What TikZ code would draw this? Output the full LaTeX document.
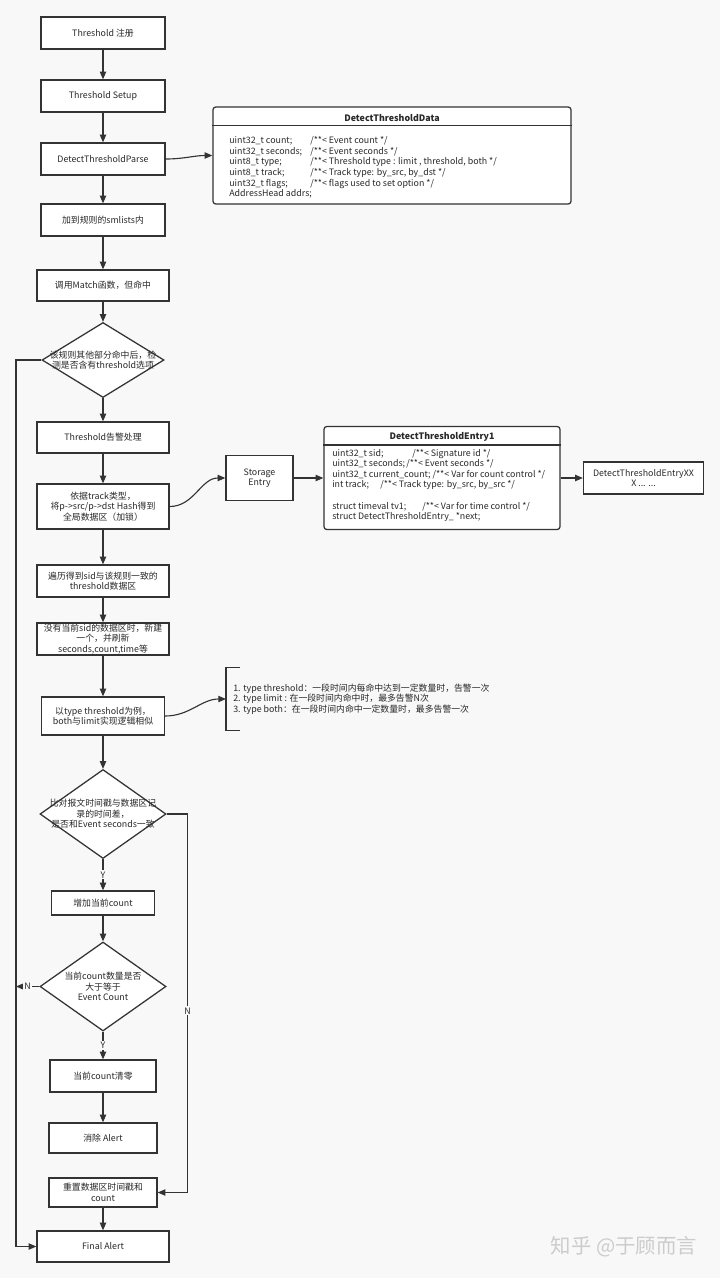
\documentclass[tikz,border=0pt]{standalone}
\usepackage{fontspec}
\setmainfont{Noto Sans CJK SC}
\usepackage{tikz}
\usetikzlibrary{arrows.meta,shapes.geometric}
\newlength\px
\setlength\px{0.025cm}
\definecolor{bg}{RGB}{248,248,248}
\definecolor{lc}{RGB}{51,51,51}
\definecolor{tc}{RGB}{40,40,40}
\newcommand{\tcol}[2]{\makebox[#1\px][l]{#2}}

\begin{document}
\begin{tikzpicture}[x=0.025cm,y=-0.025cm,
  font=\fontsize{6.3}{7.5}\selectfont,
  box/.style={draw=lc,fill=white,line width=0.9pt,inner sep=0.5pt,align=center,text=tc},
  dec/.style={diamond,draw=lc,fill=white,line width=0.9pt,inner sep=0pt},
  tbl/.style={draw=lc,fill=white,line width=0.9pt,rounded corners=2pt},
  arr/.style={draw=lc,line width=0.8pt,-{Triangle[length=5.5pt,width=4.5pt]}},
  yn/.style={fill=bg,inner sep=1pt,text=tc}]
  \useasboundingbox (0,0) rectangle (720,1278);
  \fill[bg] (0,0) rectangle (720,1278);

  \node (reg) at (103,33)[box,minimum width=124\px,minimum height=32\px]{Threshold 注册};
  \node (setup) at (103,96)[box,minimum width=124\px,minimum height=32\px]{Threshold Setup};
  \node (parse) at (103,159)[box,minimum width=124\px,minimum height=32\px]{DetectThresholdParse};
  \node (sml) at (103,220)[box,minimum width=124\px,minimum height=32\px]{加到规则的smlists内};
  \node (match) at (103,285.5)[box,minimum width=132\px,minimum height=31\px]{调用Match函数，但命中};
  \node (d1) at (103,360)[dec,minimum width=122\px,minimum height=75\px]{};
  \node at (d1)[align=center,text=tc]{该规则其他部分命中后，检\\测是否含有threshold选项};
  \node (alert) at (103,437.5)[box,minimum width=132\px,minimum height=31\px]{Threshold告警处理};
  \node (hash) at (103,506.5)[box,minimum width=132\px,minimum height=45\px]{依据track类型，\\将p->src/p->dst Hash得到\\全局数据区（加锁）};
  \node (walk) at (103,581)[box,minimum width=132\px,minimum height=32\px]{遍历得到sid与该规则一致的\\threshold数据区};
  \node (new) at (103,639)[box,minimum width=132\px,minimum height=32\px]{没有当前sid的数据区时，新建\\一个，并刷新\\seconds,count,time等};
  \node (type) at (103,716)[box,minimum width=123\px,minimum height=38\px]{以type threshold为例，\\both与limit实现逻辑相似};
  \node (d2) at (103,814)[dec,minimum width=126\px,minimum height=89\px]{};
  \node at (d2)[align=center,text=tc]{比对报文时间戳与数据区记\\录的时间差，\\是否和Event seconds一致};
  \node (inc) at (103,903)[box,minimum width=103\px,minimum height=24\px]{增加当前count};
  \node (d3) at (103,986.5)[dec,minimum width=126\px,minimum height=89\px]{};
  \node at (d3)[align=center,text=tc]{当前count数量是否\\大于等于\\Event Count};
  \node (clr) at (103,1076)[box,minimum width=106\px,minimum height=32\px]{当前count清零};
  \node (del) at (103,1138)[box,minimum width=108\px,minimum height=30\px]{消除 Alert};
  \node (rst) at (103,1192.5)[box,minimum width=108\px,minimum height=29\px]{重置数据区时间戳和\\count};
  \node (final) at (103,1246.5)[box,minimum width=132\px,minimum height=31\px]{Final Alert};
  \coordinate (lp) at (16,360);

  \draw [arr] (reg) -- (setup);
  \draw [arr] (setup) -- (parse);
  \draw [arr] (parse) -- (sml);
  \draw [arr] (sml) -- (match);
  \draw [arr] (match) -- (d1);
  \draw [arr] (d1) -- (alert);
  \draw [arr] (alert) -- (hash);
  \draw [arr] (hash) -- (walk);
  \draw [arr] (walk) -- (new);
  \draw [arr] (new) -- (type);
  \draw [arr] (type) -- (d2);
  \draw [arr] (d2) -- node[yn]{Y} (inc);
  \draw [arr] (inc) -- (d3);
  \draw [arr] (d3) -- node[yn]{Y} (clr);
  \draw [arr] (clr) -- (del);
  \draw [arr] (rst) -- (final);
  \draw [arr] (d1.west) -- (lp) |- (final.west);
  \draw [arr] (d3.west) -- node[yn]{N} (d3.west -| lp);
  \draw [arr] (d2.east) -- ++(21,0) |- node[yn,pos=0.26]{N} (rst.east);

  \node (data) at (392,155.5)[tbl,minimum width=358\px,minimum height=97\px]{};
  \draw [lc,line width=0.9pt] ([yshift=-19\px]data.north west) -- ([yshift=-19\px]data.north east);
  \node at (392,118)[text=tc]{\bfseries DetectThresholdData};
  \node at (229,167.5)[anchor=west,align=left,inner sep=0pt,text=tc]{%
    \tcol{81}{uint32\_t count;}/**< Event count */\\
    \tcol{81}{uint32\_t seconds;}/**< Event seconds */\\
    \tcol{81}{uint8\_t type;}/**< Threshold type : limit , threshold, both */\\
    \tcol{81}{uint8\_t track;}/**< Track type: by\_src, by\_dst */\\
    \tcol{81}{uint32\_t flags;}/**< flags used to set option */\\
    AddressHead addrs;};
  \draw [arr] (parse.east) to[out=0,in=180] (data.west);

  \node (stor) at (259.5,478)[box,minimum width=67\px,minimum height=45\px]{Storage\\Entry};
  \draw [arr] (hash.east) to[out=0,in=180] (stor.west);
  \node (ent) at (442,478)[tbl,minimum width=236\px,minimum height=103\px]{};
  \draw [lc,line width=0.9pt] ([yshift=-19\px]ent.north west) -- ([yshift=-19\px]ent.north east);
  \node at (442,436.5)[text=tc]{\bfseries DetectThresholdEntry1};
  \node at (332,485.5)[anchor=west,align=left,inner sep=0pt,text=tc]{%
    \tcol{80}{uint32\_t sid;}/**< Signature id */\\
    \tcol{74}{uint32\_t seconds;}/**< Event seconds */\\
    uint32\_t current\_count; /**< Var for count control */\\
    \tcol{48}{int track;}/**< Track type: by\_src, by\_src */\\
    \mbox{}\\
    \tcol{90}{struct timeval tv1;}/**< Var for time control */\\
    struct DetectThresholdEntry\_ *next;};
  \draw [arr] (stor) -- (ent);
  \node (xxx) at (643.5,478)[box,minimum width=120\px,minimum height=32\px]{DetectThresholdEntryXX\\X ... ...};
  \draw [arr] (ent) -- (xxx);

  \node (note) at (226,699)[anchor=west,align=left,minimum height=62\px,inner xsep=7\px,text=tc]{%
    1. type threshold：一段时间内每命中达到一定数量时，告警一次\\
    2. type limit : 在一段时间内命中时，最多告警N次\\
    3. type both：在一段时间内命中一定数量时，最多告警一次};
  \draw [lc,line width=0.9pt] ([xshift=14\px]note.north west) -- (note.north west) -- (note.south west) -- ([xshift=14\px]note.south west);
  \draw [arr] (type.east) to[out=0,in=180] (note.west);

  \node at (624,1247)[text=gray!40,font=\fontsize{14.5}{16}\selectfont]{知乎 @于顾而言};
\end{tikzpicture}
\end{document}
